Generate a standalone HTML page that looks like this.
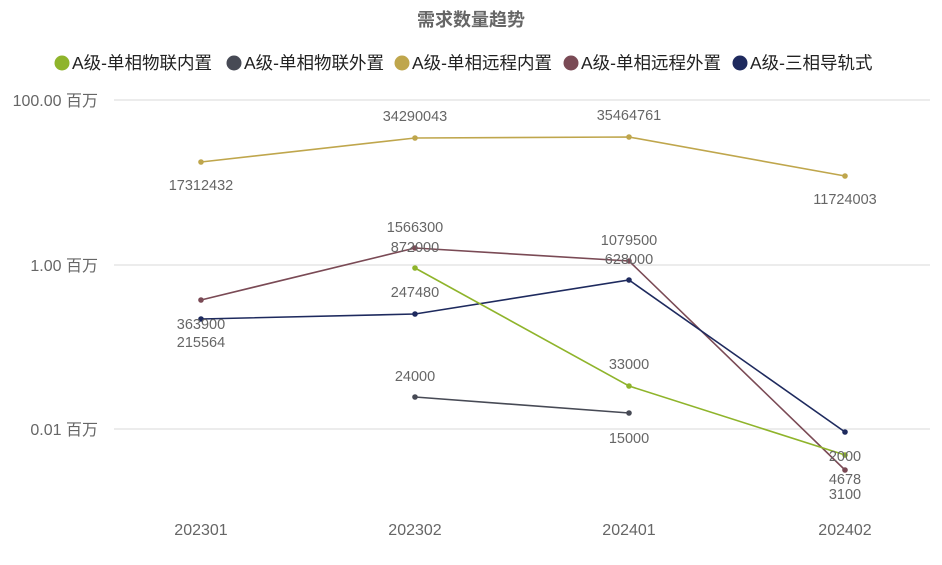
<!DOCTYPE html>
<html><head><meta charset="utf-8"><style>
body{margin:0;background:#fff;width:942px;height:560px;overflow:hidden}
text{font-family:"Liberation Sans","Noto Sans CJK SC",sans-serif}
</style></head><body>
<svg width="942" height="560" xmlns="http://www.w3.org/2000/svg">
<text x="471" y="26" text-anchor="middle" font-size="18" font-weight="bold" fill="#666">需求数量趋势</text>
<g font-size="17.5" fill="#222">
<circle cx="62" cy="63" r="7.5" fill="#8fb42b"/><text x="72" y="69">A级-单相物联内置</text>
<circle cx="234" cy="63" r="7.5" fill="#474a55"/><text x="244" y="69">A级-单相物联外置</text>
<circle cx="402" cy="63" r="7.5" fill="#bfa64c"/><text x="412" y="69">A级-单相远程内置</text>
<circle cx="571" cy="63" r="7.5" fill="#7a4a55"/><text x="581" y="69">A级-单相远程外置</text>
<circle cx="740" cy="63" r="7.5" fill="#1e2a5e"/><text x="750" y="69">A级-三相导轨式</text>
</g>
<g stroke="#e6e6e6" stroke-width="1.5">
<line x1="114" y1="100" x2="930" y2="100"/>
<line x1="114" y1="265" x2="930" y2="265"/>
<line x1="114" y1="429" x2="930" y2="429"/>
</g>
<g font-size="16" fill="#666" text-anchor="end">
<text x="98" y="106">100.00 百万</text>
<text x="98" y="271">1.00 百万</text>
<text x="98" y="435">0.01 百万</text>
</g>
<g font-size="16" fill="#666" text-anchor="middle">
<text x="201" y="535">202301</text><text x="415" y="535">202302</text>
<text x="629" y="535">202401</text><text x="845" y="535">202402</text>
</g>
<g fill="none" stroke-width="1.6">
<polyline stroke="#bfa64c" points="201,162 415,138 629,137 845,176"/>
<polyline stroke="#7a4a55" points="201,300 415,248 629,261 845,470"/>
<polyline stroke="#1e2a5e" points="201,319 415,314 629,280 845,432"/>
<polyline stroke="#8fb42b" points="415,268 629,386 845,455"/>
<polyline stroke="#474a55" points="415,397 629,413"/>
</g>
<g>
<g fill="#bfa64c"><circle cx="201" cy="162" r="2.8"/><circle cx="415" cy="138" r="2.8"/><circle cx="629" cy="137" r="2.8"/><circle cx="845" cy="176" r="2.8"/></g>
<g fill="#7a4a55"><circle cx="201" cy="300" r="2.8"/><circle cx="415" cy="248" r="2.8"/><circle cx="629" cy="261" r="2.8"/><circle cx="845" cy="470" r="2.8"/></g>
<g fill="#1e2a5e"><circle cx="201" cy="319" r="2.8"/><circle cx="415" cy="314" r="2.8"/><circle cx="629" cy="280" r="2.8"/><circle cx="845" cy="432" r="2.8"/></g>
<g fill="#8fb42b"><circle cx="415" cy="268" r="2.8"/><circle cx="629" cy="386" r="2.8"/><circle cx="845" cy="455" r="2.8"/></g>
<g fill="#474a55"><circle cx="415" cy="397" r="2.8"/><circle cx="629" cy="413" r="2.8"/></g>
</g>
<g font-size="14.5" fill="#666" text-anchor="middle">
<text x="201" y="190">17312432</text>
<text x="415" y="121">34290043</text>
<text x="629" y="120">35464761</text>
<text x="845" y="204">11724003</text>
<text x="415" y="232">1566300</text>
<text x="415" y="252">872000</text>
<text x="629" y="245">1079500</text>
<text x="629" y="264">628000</text>
<text x="201" y="329">363900</text>
<text x="201" y="347">215564</text>
<text x="415" y="297">247480</text>
<text x="415" y="381">24000</text>
<text x="629" y="369">33000</text>
<text x="629" y="443">15000</text>
<text x="845" y="461">2000</text>
<text x="845" y="484">4678</text>
<text x="845" y="499">3100</text>
</g>
</svg>
</body></html>
